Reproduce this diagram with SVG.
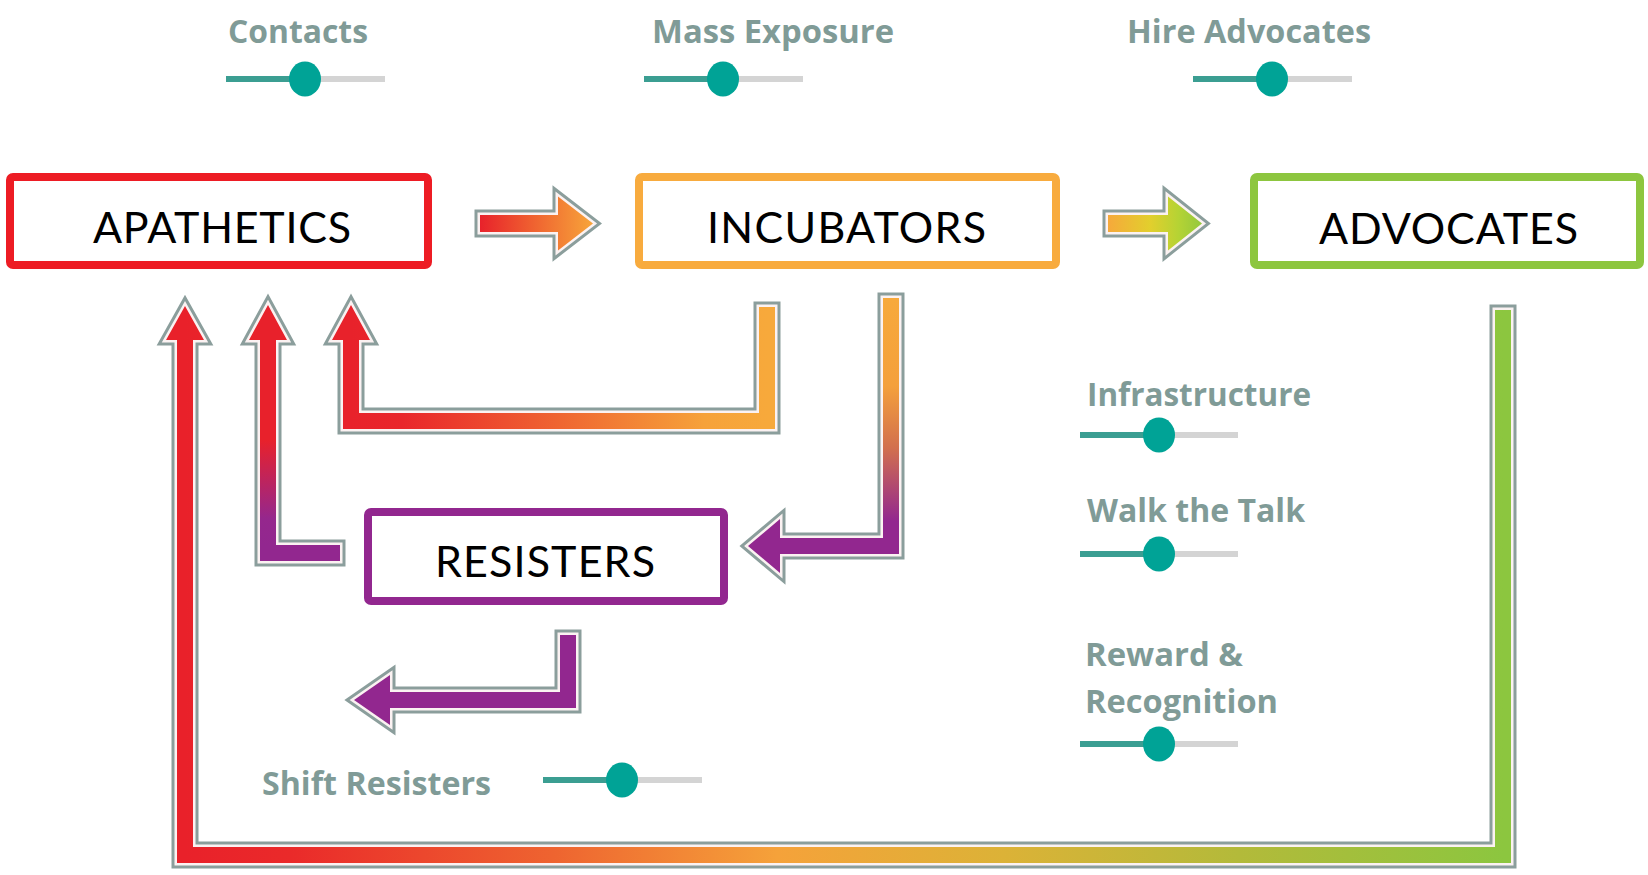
<svg xmlns="http://www.w3.org/2000/svg" width="1648" height="875" viewBox="0 0 1648 875">
  <style>
    .box { fill: #ffffff; stroke-width: 8; }
    .node-text { font-family: Lato, "Open Sans", "Liberation Sans", sans-serif; font-size: 43px; fill: #000000; }
    .label { font-family: "Open Sans", Lato, "Liberation Sans", sans-serif; font-weight: bold; font-size: 32px; fill: #809b97; }
    .track-on { stroke: #3b9e92; stroke-width: 6; }
    .track-off { stroke: #d4d4d4; stroke-width: 6; }
    .knob { fill: #00a396; }
    .halo { fill: none; stroke: #8b9e9c; stroke-width: 11; stroke-linejoin: miter; stroke-miterlimit: 12; }
    .gap { fill: none; stroke: #fbf2f2; stroke-width: 5; stroke-linejoin: miter; stroke-miterlimit: 12; }
  </style>
  <defs>
    <!-- gradients for the flow arrows -->
    <linearGradient id="g1" gradientUnits="userSpaceOnUse" x1="480" y1="0" x2="593" y2="0">
      <stop offset="0" stop-color="#e8222b"/>
      <stop offset="0.45" stop-color="#ef5f30"/>
      <stop offset="1" stop-color="#f7a53a"/>
    </linearGradient>
    <linearGradient id="g2" gradientUnits="userSpaceOnUse" x1="1108" y1="0" x2="1202" y2="0">
      <stop offset="0" stop-color="#f6a93b"/>
      <stop offset="0.45" stop-color="#e2cf2d"/>
      <stop offset="0.75" stop-color="#b5d334"/>
      <stop offset="1" stop-color="#94c83d"/>
    </linearGradient>
    <linearGradient id="gA" gradientUnits="userSpaceOnUse" x1="185" y1="0" x2="1503" y2="0">
      <stop offset="0" stop-color="#e9212a"/>
      <stop offset="0.08" stop-color="#ea2a2a"/>
      <stop offset="0.28" stop-color="#ee6430"/>
      <stop offset="0.45" stop-color="#f5a23a"/>
      <stop offset="0.62" stop-color="#dcb237"/>
      <stop offset="0.8" stop-color="#b3ba3a"/>
      <stop offset="1" stop-color="#8cc63f"/>
    </linearGradient>
    <linearGradient id="gB" gradientUnits="userSpaceOnUse" x1="0" y1="545" x2="0" y2="440">
      <stop offset="0" stop-color="#92278f"/>
      <stop offset="0.25" stop-color="#95278d"/>
      <stop offset="1" stop-color="#e8212b"/>
    </linearGradient>
    <linearGradient id="gC" gradientUnits="userSpaceOnUse" x1="351" y1="0" x2="767" y2="0">
      <stop offset="0" stop-color="#e8222b"/>
      <stop offset="0.12" stop-color="#e9262b"/>
      <stop offset="0.5" stop-color="#ef6531"/>
      <stop offset="0.85" stop-color="#f6a23a"/>
      <stop offset="1" stop-color="#f7a93b"/>
    </linearGradient>
    <linearGradient id="gD" gradientUnits="userSpaceOnUse" x1="0" y1="300" x2="0" y2="546">
      <stop offset="0" stop-color="#f7a93b"/>
      <stop offset="0.35" stop-color="#f4a03c"/>
      <stop offset="0.6" stop-color="#d2704e"/>
      <stop offset="0.9" stop-color="#92278f"/>
      <stop offset="1" stop-color="#92278f"/>
    </linearGradient>

    <!-- arrow outlines -->
    <path id="a1" d="M480,215 L558,215 L558,196.5 L593,223.5 L558,250.5 L558,232 L480,232 Z"/>
    <path id="a2" d="M1108,215 L1168,215 L1168,196.5 L1202,223.5 L1168,250.5 L1168,232 L1108,232 Z"/>
    <path id="aA" d="M1495,310 L1511,310 L1511,863 L177,863 L177,340 L166,340 L185,306 L204,340 L193,340 L193,847 L1495,847 Z"/>
    <path id="aB" d="M340,545 L340,561 L260,561 L260,340 L249,340 L268,305 L287,340 L276,340 L276,545 Z"/>
    <path id="aC" d="M759,307 L775,307 L775,429 L343,429 L343,340 L332,340 L351,305 L370,340 L359,340 L359,413 L759,413 Z"/>
    <path id="aD" d="M883,298 L899,298 L899,554 L780,554 L780,573 L748,546 L780,519 L780,538 L883,538 Z"/>
    <path id="aE" d="M560,635 L576,635 L576,708 L390,708 L390,725 L354,700 L390,675 L390,692 L560,692 Z"/>
  </defs>

  <rect width="1648" height="875" fill="#ffffff"/>

  <!-- connectors -->
  <g id="connectors">
    <g id="advocates-to-apathetics">
      <use href="#aA" class="halo"/>
      <use href="#aA" class="gap"/>
      <use href="#aA" fill="url(#gA)"/>
    </g>
    <g id="resisters-to-apathetics">
      <use href="#aB" class="halo"/>
      <use href="#aB" class="gap"/>
      <use href="#aB" fill="url(#gB)"/>
    </g>
    <g id="incubators-to-apathetics">
      <use href="#aC" class="halo"/>
      <use href="#aC" class="gap"/>
      <use href="#aC" fill="url(#gC)"/>
    </g>
    <g id="incubators-to-resisters">
      <use href="#aD" class="halo"/>
      <use href="#aD" class="gap"/>
      <use href="#aD" fill="url(#gD)"/>
    </g>
    <g id="resisters-shift">
      <use href="#aE" class="halo"/>
      <use href="#aE" class="gap"/>
      <use href="#aE" fill="#92278f"/>
    </g>
    <g id="apathetics-to-incubators">
      <use href="#a1" class="halo"/>
      <use href="#a1" class="gap"/>
      <use href="#a1" fill="url(#g1)"/>
    </g>
    <g id="incubators-to-advocates">
      <use href="#a2" class="halo"/>
      <use href="#a2" class="gap"/>
      <use href="#a2" fill="url(#g2)"/>
    </g>
  </g>

  <!-- stage nodes -->
  <g id="apathetics">
    <rect class="box" x="10" y="177" width="418" height="88" rx="3" stroke="#ed1c24"/>
    <text class="node-text" x="93" y="243" textLength="258">APATHETICS</text>
  </g>
  <g id="incubators">
    <rect class="box" x="639" y="177" width="417" height="88" rx="3" stroke="#f8ab3e"/>
    <text class="node-text" x="707" y="243" textLength="279">INCUBATORS</text>
  </g>
  <g id="advocates">
    <rect class="box" x="1254" y="177" width="386" height="88" rx="3" stroke="#8dc63f"/>
    <text class="node-text" x="1319" y="244" textLength="259">ADVOCATES</text>
  </g>
  <g id="resisters">
    <rect class="box" x="368" y="512" width="356" height="89" rx="3" stroke="#92278f"/>
    <text class="node-text" x="435" y="577" textLength="220">RESISTERS</text>
  </g>

  <!-- lever sliders -->
  <g id="contacts">
    <text class="label" x="228" y="43" textLength="140" lengthAdjust="spacingAndGlyphs">Contacts</text>
    <line class="track-on" x1="226" y1="79" x2="305" y2="79"/>
    <line class="track-off" x1="305" y1="79" x2="385" y2="79"/>
    <ellipse class="knob" cx="305" cy="79" rx="16" ry="17.5"/>
  </g>
  <g id="mass-exposure">
    <text class="label" x="652" y="43" textLength="242" lengthAdjust="spacingAndGlyphs">Mass Exposure</text>
    <line class="track-on" x1="644" y1="79" x2="723" y2="79"/>
    <line class="track-off" x1="723" y1="79" x2="803" y2="79"/>
    <ellipse class="knob" cx="723" cy="79" rx="16" ry="17.5"/>
  </g>
  <g id="hire-advocates">
    <text class="label" x="1127" y="43" textLength="244" lengthAdjust="spacingAndGlyphs">Hire Advocates</text>
    <line class="track-on" x1="1193" y1="79" x2="1272" y2="79"/>
    <line class="track-off" x1="1272" y1="79" x2="1352" y2="79"/>
    <ellipse class="knob" cx="1272" cy="79" rx="16" ry="17.5"/>
  </g>
  <g id="infrastructure">
    <text class="label" x="1087" y="406" textLength="224" lengthAdjust="spacingAndGlyphs">Infrastructure</text>
    <line class="track-on" x1="1080" y1="435" x2="1159" y2="435"/>
    <line class="track-off" x1="1159" y1="435" x2="1238" y2="435"/>
    <ellipse class="knob" cx="1159" cy="435" rx="16" ry="17.5"/>
  </g>
  <g id="walk-the-talk">
    <text class="label" x="1087" y="522" textLength="218" lengthAdjust="spacingAndGlyphs">Walk the Talk</text>
    <line class="track-on" x1="1080" y1="554" x2="1159" y2="554"/>
    <line class="track-off" x1="1159" y1="554" x2="1238" y2="554"/>
    <ellipse class="knob" cx="1159" cy="554" rx="16" ry="17.5"/>
  </g>
  <g id="reward-recognition">
    <text class="label" x="1085" y="666" textLength="158" lengthAdjust="spacingAndGlyphs">Reward &amp;</text>
    <text class="label" x="1085" y="713" textLength="193" lengthAdjust="spacingAndGlyphs">Recognition</text>
    <line class="track-on" x1="1080" y1="744" x2="1159" y2="744"/>
    <line class="track-off" x1="1159" y1="744" x2="1238" y2="744"/>
    <ellipse class="knob" cx="1159" cy="744" rx="16" ry="17.5"/>
  </g>
  <g id="shift-resisters">
    <text class="label" x="262" y="795" textLength="229" lengthAdjust="spacingAndGlyphs">Shift Resisters</text>
    <line class="track-on" x1="543" y1="780" x2="622" y2="780"/>
    <line class="track-off" x1="622" y1="780" x2="702" y2="780"/>
    <ellipse class="knob" cx="622" cy="780" rx="16" ry="17.5"/>
  </g>
</svg>
